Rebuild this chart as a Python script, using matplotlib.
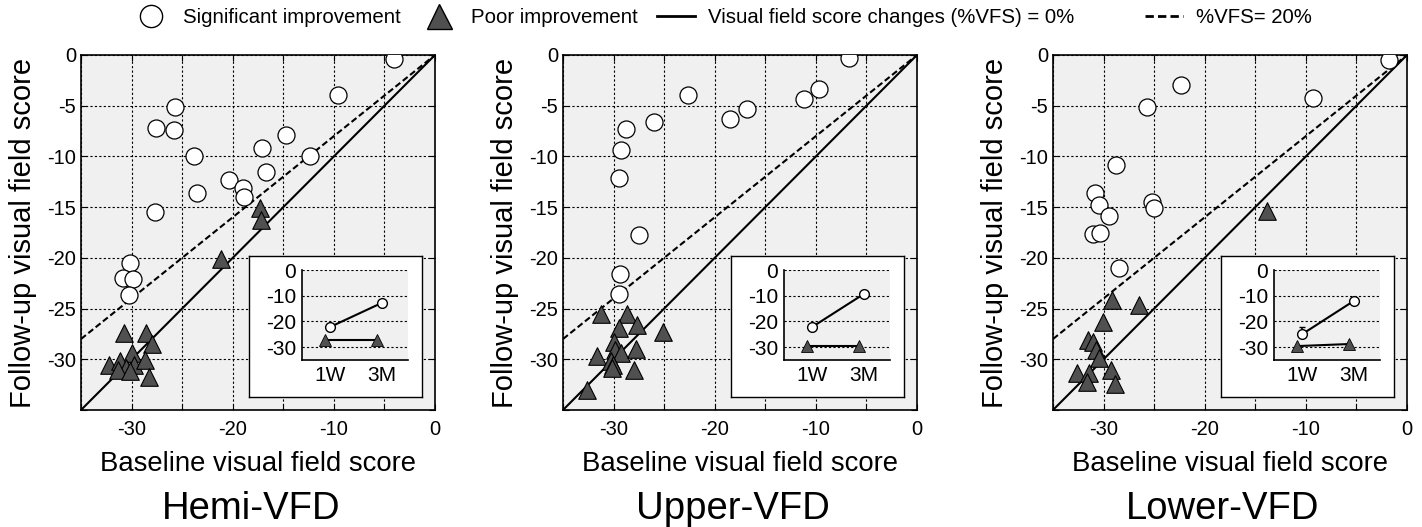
import matplotlib
matplotlib.use("Agg")
import matplotlib.pyplot as plt
from matplotlib.lines import Line2D

plt.rcParams['font.family'] = ['Liberation Sans', 'DejaVu Sans']
plt.rcParams['axes.unicode_minus'] = False

# panel titles
panels = ["Hemi-VFD", "Upper-VFD", "Lower-VFD"]

# significant improvement (baseline, follow-up)
sig_x = [
    [-4.1, -9.6, -25.7, -27.6, -25.8, -14.7, -17.1, -12.4, -23.8, -16.7,
     -20.4, -19.0, -18.9, -23.5, -27.7, -30.2, -30.8, -29.9, -30.3],
    [-6.7, -9.7, -11.2, -16.8, -18.5, -22.6, -26.0, -28.8, -29.3, -29.5,
     -27.5, -29.4, -29.5],
    [-1.8, -22.3, -9.3, -25.7, -28.8, -30.8, -30.5, -29.5, -25.2, -25.0,
     -31.0, -30.4, -28.5],
]
sig_y = [
    [-0.4, -3.9, -5.1, -7.2, -7.4, -7.9, -9.2, -10.0, -10.0, -11.5,
     -12.3, -13.1, -14.0, -13.6, -15.5, -20.5, -22.0, -22.1, -23.7],
    [-0.3, -3.4, -4.3, -5.3, -6.3, -3.9, -6.6, -7.3, -9.4, -12.1,
     -17.7, -21.6, -23.6],
    [-0.5, -3.0, -4.2, -5.1, -10.8, -13.6, -14.8, -15.9, -14.5, -15.1,
     -17.6, -17.5, -21.0],
]

# poor improvement (baseline, follow-up)
poor_x = [
    [-17.3, -17.2, -21.2, -30.7, -28.6, -28.0, -30.0, -32.2, -31.1, -30.6,
     -29.8, -28.7, -28.3, -31.3, -30.2],
    [-31.2, -28.7, -29.5, -27.7, -25.1, -30.0, -29.9, -29.3, -27.8, -31.6,
     -30.3, -30.1, -30.2, -28.0, -32.6],
    [-13.8, -29.2, -26.5, -30.1, -31.5, -31.0, -30.7, -30.5, -29.3, -32.6,
     -31.4, -31.6, -28.9],
]
poor_y = [
    [-15.1, -16.3, -20.1, -27.4, -27.4, -28.5, -29.4, -30.6, -30.2, -30.9,
     -30.6, -30.1, -31.7, -31.1, -31.2],
    [-25.5, -25.5, -26.9, -26.6, -27.3, -28.3, -29.1, -29.4, -29.0, -29.7,
     -30.2, -30.6, -30.9, -31.1, -33.0],
    [-15.4, -24.2, -24.6, -26.3, -28.1, -28.3, -29.1, -29.9, -31.1, -31.4,
     -31.4, -32.2, -32.4],
]

# inset: group means at 1W and 3M
inset_labels = ["1W", "3M"]
inset_sig = [[-22.1, -12.7], [-22.1, -9.2], [-24.9, -11.9]]
inset_sig_err = [[1.2, 0.6], [1.2, 0.6], [2.8, 0.6]]
inset_poor = [[-27.3, -27.3], [-29.6, -29.6], [-29.6, -28.8]]

W, H = 1422, 527
fig = plt.figure(figsize=(W / 100, H / 100), dpi=100)

ax_left = [81, 563, 1053]
ax_w = 354
ax_top, ax_bot = 55, 410

for i in range(3):
    l = ax_left[i] / W
    b = 1 - ax_bot / H
    w = ax_w / W
    h = (ax_bot - ax_top) / H
    ax = fig.add_axes([l, b, w, h])
    ax.set_facecolor('#f0f0f0')
    ax.set_xlim(-35, 0)
    ax.set_ylim(-35, 0)

    ax.plot([-35, 0], [-35, 0], color='black', lw=1.5, zorder=2)
    ax.plot([-35, 0], [-28, 0], color='black', lw=1.5, dashes=(3, 1.5), zorder=2)

    ax.scatter(sig_x[i], sig_y[i], s=150, marker='o', facecolor='white',
               edgecolor='black', linewidth=0.9, zorder=3)
    ax.scatter(poor_x[i], poor_y[i], s=160, marker='^', facecolor='#505050',
               edgecolor='black', linewidth=0.8, zorder=3)

    ax.set_xticks(range(-35, 1, 5))
    ax.set_xticklabels(['', '-30', '', '-20', '', '-10', '', '0'])
    ax.set_yticks(range(-35, 1, 5))
    ax.set_yticklabels(['', '-30', '-25', '-20', '-15', '-10', '-5', '0'])
    ax.tick_params(direction='in', top=True, right=True, labelsize=14.5,
                   length=4, width=0.8)
    ax.tick_params(axis='x', pad=7)
    ax.grid(True, color='black', linestyle=(0, (2, 2)), linewidth=0.8)
    ax.set_axisbelow(True)
    for sp in ax.spines.values():
        sp.set_linewidth(1.2)

    ax.set_xlabel("Baseline visual field score", fontsize=19.8, labelpad=9)
    ax.set_ylabel("Follow-up visual field score", fontsize=21, labelpad=7)
    ax.text(0.48, -0.28, panels[i], transform=ax.transAxes, ha='center',
            va='center', fontsize=27.5)

    # inset box
    bx0, bx1, by0, by1 = 0.474, 0.962, 0.037, 0.434
    box = fig.add_axes([l + bx0 * w, b + by0 * h, (bx1 - bx0) * w, (by1 - by0) * h])
    box.set_xticks([])
    box.set_yticks([])
    box.set_facecolor('white')
    for sp in box.spines.values():
        sp.set_linewidth(1.0)

    ix0, ix1, iy0, iy1 = 0.624, 0.924, 0.141, 0.394
    ins = fig.add_axes([l + ix0 * w, b + iy0 * h, (ix1 - ix0) * w, (iy1 - iy0) * h])
    ins.set_facecolor('#f0f0f0')
    ins.plot([0.9, 1.9], inset_poor[i], color='black', lw=1.5, marker='^',
             markersize=8, markerfacecolor='#505050', markeredgecolor='black',
             markeredgewidth=0.6)
    ins.errorbar([1, 2], inset_sig[i], yerr=[[0, 0], inset_sig_err[i]],
                 color='black', lw=1.5, marker='o', markersize=7,
                 markerfacecolor='white', markeredgecolor='black',
                 capsize=2, elinewidth=1.2)
    ins.set_xlim(0.45, 2.5)
    ins.set_ylim(-35, 0)
    ins.set_xticks([1, 2])
    ins.set_xticklabels(inset_labels)
    ins.set_yticks([0, -10, -20, -30])
    ins.tick_params(length=0, labelsize=15, pad=4)
    ins.yaxis.grid(True, color='black', linestyle=(0, (2, 2)), linewidth=0.8)
    ins.set_axisbelow(True)
    ins.spines['top'].set_visible(False)
    ins.spines['right'].set_visible(False)
    ins.spines['left'].set_linewidth(1.2)
    ins.spines['bottom'].set_linewidth(1.2)

handles = [
    Line2D([], [], linestyle='none', marker='o', markersize=16,
           markerfacecolor='white', markeredgecolor='black'),
    Line2D([], [], linestyle='none', marker='^', markersize=18,
           markerfacecolor='#505050', markeredgecolor='black'),
    Line2D([], [], color='black', lw=2),
    Line2D([], [], color='black', lw=2, dashes=(3, 1.5)),
]
labels = ["Significant improvement", "Poor improvement",
          "Visual field score changes (%VFS) = 0%", "%VFS= 20%"]
leg_kw = dict(frameon=False, handlelength=1.85, handletextpad=0.65,
              borderaxespad=0, borderpad=0, fontsize=14.7)
fig.legend(handles[:3], labels[:3], loc='center left',
           bbox_to_anchor=(132 / W, 0.966), ncol=3, columnspacing=0.95, **leg_kw)
fig.legend(handles[3:], labels[3:], loc='center left',
           bbox_to_anchor=(1145 / W, 0.966), **leg_kw)

fig.savefig("out.png", dpi=100)
